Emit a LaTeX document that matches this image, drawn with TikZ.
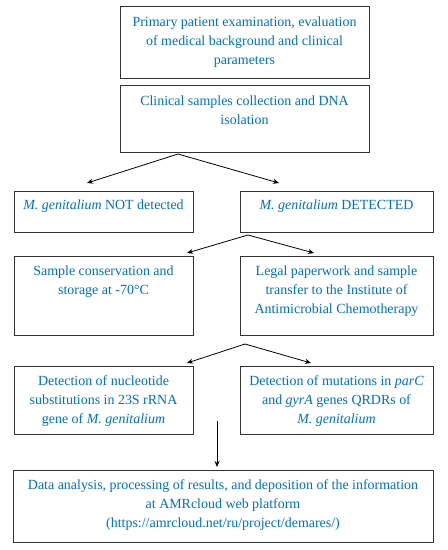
\documentclass[tikz,border=0pt]{standalone}
\usepackage{fontspec}
\setmainfont{Liberation Serif}
\usetikzlibrary{arrows.meta}
\definecolor{txtblue}{RGB}{0,112,192}
\begin{document}
\begin{tikzpicture}[x=1pt,y=-1pt,
  boxline/.style={draw=black!80,line width=0.9pt},
  lbl/.style={anchor=north,text=txtblue,align=center,inner sep=0pt,font=\fontsize{13.95}{19}\selectfont},
  arr/.style={-{Stealth[length=6pt,width=5pt]},line width=0.8pt,black}]
\useasboundingbox (0,0) rectangle (448,550);
% boxes
\draw[boxline] (120,6) rectangle (369,78);
\draw[boxline] (120,85) rectangle (369,152);
\draw[boxline] (14,191) rectangle (193,232);
\draw[boxline] (240,191) rectangle (433,232);
\draw[boxline] (14,256) rectangle (193,335);
\draw[boxline] (240,256) rectangle (433,335);
\draw[boxline] (14,366) rectangle (193,434);
\draw[boxline] (240,366) rectangle (433,434);
\draw[boxline] (13,470) rectangle (433,542);
% texts
\node[lbl] (t1) at (244.5,16.5) {Primary patient examination, evaluation\\of medical background and clinical\\parameters};
\node[lbl] (t2) at (244.5,95.5) {Clinical samples collection and DNA\\isolation};
\node[lbl] (t3) at (103.5,200) {\textit{M. genitalium} NOT detected};
\node[lbl] (t4) at (336.5,200) {\textit{M. genitalium} DETECTED};
\node[lbl] (t5) at (103.5,265.5) {Sample conservation and\\storage at -70\textdegree C};
\node[lbl] (t6) at (336.5,265.5) {Legal paperwork and sample\\transfer to the Institute of\\Antimicrobial Chemotherapy};
\node[lbl] (t7) at (103.5,375.5) {Detection of nucleotide\\substitutions in 23S rRNA\\gene of \textit{M. genitalium}};
\node[lbl] (t8) at (336.5,375.5) {Detection of mutations in \textit{parC}\\and \textit{gyrA} genes QRDRs of\\\textit{M. genitalium}};
\node[lbl] (t9) at (223,479) {Data analysis, processing of results, and deposition of the information\\at AMRcloud web platform\\(https://amrcloud.net/ru/project/demares/)};
% connector points
\coordinate (s1) at (178,154);
\coordinate (e1a) at (87,183);
\coordinate (e1b) at (279,183);
\coordinate (s2) at (248,235);
\coordinate (e2a) at (187,253);
\coordinate (e2b) at (314,253);
\coordinate (s3) at (245,344);
\coordinate (e3a) at (187,363);
\coordinate (e3b) at (311,363);
\coordinate (s4) at (217,421);
\coordinate (e4) at (217,467);
\draw[arr] (s1) -- (e1a);
\draw[arr] (s1) -- (e1b);
\draw[arr] (s2) -- (e2a);
\draw[arr] (s2) -- (e2b);
\draw[arr] (s3) -- (e3a);
\draw[arr] (s3) -- (e3b);
\draw[arr] (s4) -- (e4);
\end{tikzpicture}
\end{document}
